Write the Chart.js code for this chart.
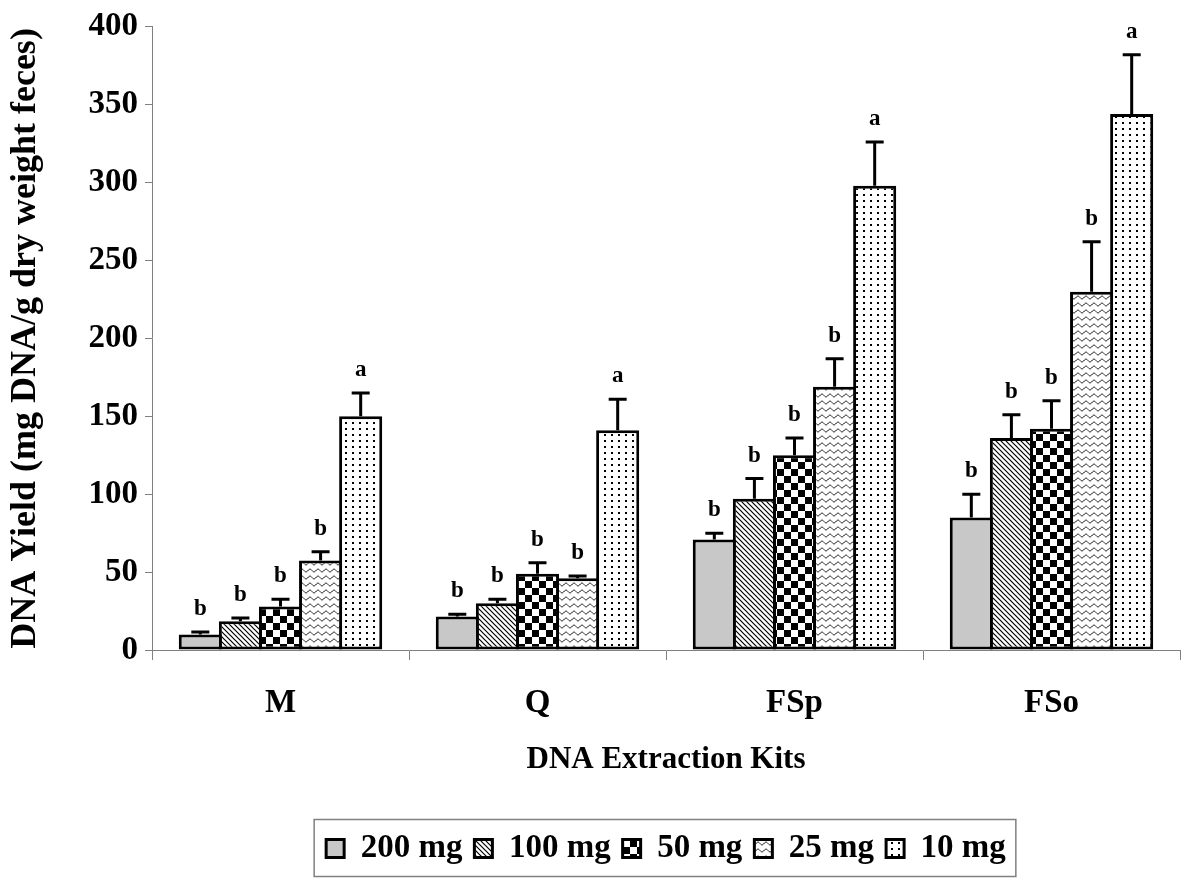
<!DOCTYPE html>
<html>
<head>
<meta charset="utf-8">
<script src="https://cdn.jsdelivr.net/npm/chart.js@4/dist/chart.umd.min.js"></script>
<style>
  html, body { margin: 0; padding: 0; background: #fff; }
  #wrap { width: 1200px; height: 895px; }
</style>
</head>
<body>
<div id="wrap"><canvas id="myChart" width="1200" height="895"></canvas></div>
<script>
// kits on the x axis
const kits = ['M', 'Q', 'FSp', 'FSo'];
const seriesNames = ['200 mg', '100 mg', '50 mg', '25 mg', '10 mg'];

// mean DNA yield per sample weight (mg DNA / g dry weight feces)
const yield200 = [10, 21.5, 71, 85];
const yield100 = [18.5, 30, 97, 136];
const yield50 = [28, 49, 125, 142];
const yield25 = [57.5, 46, 169, 230];
const yield10 = [150, 141, 298, 344];

// error bar (upper) sizes
const err200 = [1.5, 1.5, 4, 15];
const err100 = [2, 2.5, 13, 15];
const err50 = [4.5, 7, 11, 18];
const err25 = [5.5, 1.5, 18, 32];
const err10 = [15, 20, 28, 38];

// significance letters
const letters200 = ['b', 'b', 'b', 'b'];
const letters100 = ['b', 'b', 'b', 'b'];
const letters50 = ['b', 'b', 'b', 'b'];
const letters25 = ['b', 'b', 'b', 'b'];
const letters10 = ['a', 'a', 'a', 'a'];

const yTicks = [0, 50, 100, 150, 200, 250, 300, 350, 400];

const FONT = '"Liberation Serif", "Times New Roman", serif';

// --- fill patterns ---
function makeTile(w, h, drawFn) {
  const c = document.createElement('canvas');
  c.width = w; c.height = h;
  const g = c.getContext('2d');
  g.fillStyle = '#fff';
  g.fillRect(0, 0, w, h);
  g.fillStyle = '#000';
  g.strokeStyle = '#000';
  drawFn(g, w, h);
  return document.createElement('canvas').getContext('2d').createPattern(c, 'repeat');
}

const diagPattern = makeTile(5, 5, (g, w, h) => {
  g.lineWidth = 1.2;
  g.beginPath();
  g.moveTo(-1, -1); g.lineTo(w + 1, h + 1);
  g.moveTo(-1, h - 1); g.lineTo(1, h + 1);
  g.moveTo(w - 1, -1); g.lineTo(w + 1, 1);
  g.stroke();
});

const checkPattern = makeTile(14, 14, (g) => {
  g.fillRect(0, 0, 7, 7);
  g.fillRect(7, 7, 7, 7);
});

const wavePattern = makeTile(8, 7, (g, w) => {
  g.lineWidth = 1;
  g.beginPath();
  for (let x = 0; x <= w; x += 0.5) {
    const y = 3.5 + 1.4 * Math.sin((x / w) * Math.PI * 2);
    if (x === 0) g.moveTo(x, y); else g.lineTo(x, y);
  }
  g.stroke();
});

const dotPattern = makeTile(7, 6, (g) => {
  g.fillRect(2, 2, 2, 2);
});

const fills = ['#c8c8c8', diagPattern, checkPattern, wavePattern, dotPattern];
const values = [yield200, yield100, yield50, yield25, yield10];
const errors = [err200, err100, err50, err25, err10];
const letters = [letters200, letters100, letters50, letters25, letters10];

// error bars + letters drawn with the chart scales
const errorBarPlugin = {
  id: 'errorBars',
  afterDatasetsDraw(chart) {
    const ctx = chart.ctx;
    const yScale = chart.scales.y;
    ctx.save();
    chart.data.datasets.forEach((ds, i) => {
      const meta = chart.getDatasetMeta(i);
      meta.data.forEach((bar, j) => {
        const top = yScale.getPixelForValue(ds.data[j] + ds.errors[j]);
        ctx.strokeStyle = '#000';
        ctx.lineWidth = 3;
        ctx.beginPath();
        ctx.moveTo(bar.x, bar.y);
        ctx.lineTo(bar.x, top);
        ctx.moveTo(bar.x - 9, top);
        ctx.lineTo(bar.x + 9, top);
        ctx.stroke();
        ctx.fillStyle = '#000';
        ctx.font = 'bold 23px ' + FONT;
        ctx.textAlign = 'center';
        ctx.textBaseline = 'alphabetic';
        ctx.fillText(ds.letters[j], bar.x, top - 17);
      });
    });
    ctx.restore();
  }
};

// grey frame round the legend
const legendBoxPlugin = {
  id: 'legendBox',
  afterDraw(chart) {
    const lg = chart.legend;
    if (!lg || !lg.legendHitBoxes.length) return;
    const hb = lg.legendHitBoxes;
    const left = hb[0].left - 12;
    const last = hb[hb.length - 1];
    const right = last.left + last.width + 10;
    const cy = hb[0].top + hb[0].height / 2;
    const ctx = chart.ctx;
    ctx.save();
    ctx.strokeStyle = '#808080';
    ctx.lineWidth = 1.5;
    ctx.strokeRect(left, cy - 29, right - left, 57);
    ctx.restore();
  }
};

const datasets = seriesNames.map((name, i) => ({
  label: name,
  data: values[i],
  errors: errors[i],
  letters: letters[i],
  backgroundColor: fills[i],
  borderColor: '#000',
  borderWidth: 3,
  borderSkipped: false,
  barPercentage: 1.075,
  categoryPercentage: 0.78
}));

const ctx = document.getElementById('myChart').getContext('2d');
new Chart(ctx, {
  type: 'bar',
  data: { labels: kits, datasets: datasets },
  options: {
    responsive: false,
    animation: false,
    layout: { padding: { top: 26, right: 20, bottom: 20, left: 0 } },
    plugins: {
      tooltip: { enabled: false },
      legend: {
        position: 'bottom',
        fullSize: false,
        labels: {
          color: '#000',
          font: { family: FONT, size: 33, weight: 'bold' },
          boxWidth: 18,
          boxHeight: 18,
          padding: 12
        }
      }
    },
    scales: {
      x: {
        grid: { display: true, drawOnChartArea: false, color: '#808080', tickLength: 10, offset: true },
        border: { color: '#808080', width: 1 },
        ticks: { color: '#000', padding: 24, font: { family: FONT, size: 33, weight: 'bold' } },
        title: {
          display: true,
          text: 'DNA Extraction Kits',
          color: '#000',
          font: { family: FONT, size: 31, weight: 'bold' },
          padding: { top: 0, bottom: 41 }
        },
        afterFit(scale) { scale.height = 170; }
      },
      y: {
        min: 0,
        max: 400,
        afterBuildTicks(scale) { scale.ticks = yTicks.map(v => ({ value: v })); },
        grid: { display: true, drawOnChartArea: false, color: '#808080', tickLength: 7 },
        border: { color: '#808080', width: 1 },
        ticks: { color: '#000', padding: 7, font: { family: FONT, size: 33, weight: 'bold' } },
        title: {
          display: true,
          text: 'DNA Yield (mg DNA/g dry weight feces)',
          color: '#000',
          font: { family: FONT, size: 36, weight: 'bold' },
          padding: { top: 4, bottom: 0 }
        },
        afterFit(scale) { scale.width = 152; }
      }
    }
  },
  plugins: [errorBarPlugin, legendBoxPlugin]
});
</script>
</body>
</html>
